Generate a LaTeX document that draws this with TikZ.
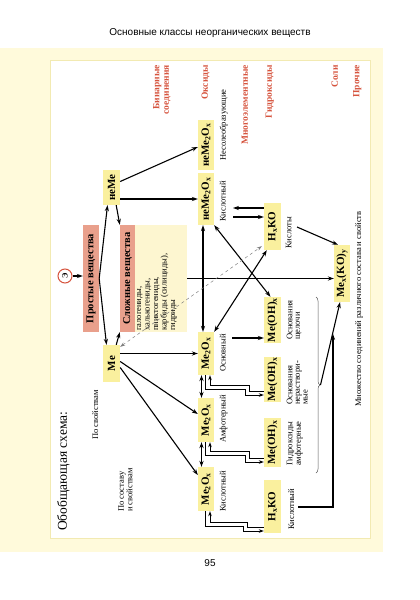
\documentclass[tikz,border=0pt]{standalone}
\usepackage{fontspec}
\setmainfont{Liberation Serif}
\newfontfamily\hdrfont{Liberation Sans}
\usepackage{graphicx}
\usetikzlibrary{arrows.meta,calc,decorations.pathreplacing}
\definecolor{panelbg}{RGB}{255,250,219}
\definecolor{panelline}{RGB}{242,234,178}
\definecolor{boxyel}{RGB}{250,240,158}
\definecolor{boxsal}{RGB}{233,160,140}
\definecolor{boxpale}{RGB}{253,246,208}
\definecolor{labred}{RGB}{214,84,62}
\begin{document}
\begin{tikzpicture}[x=1pt,y=-1pt,
  box/.style={fill=boxyel, inner sep=0pt, font=\bfseries\fontsize{11}{13}\selectfont},
  salbox/.style={fill=boxsal, inner sep=0pt, font=\bfseries\fontsize{10.5}{12}\selectfont},
  lab/.style={rotate=90, anchor=north west, inner sep=0pt, align=left, font=\fontsize{8.5}{7.6}\selectfont},
  redlab/.style={rotate=90, anchor=north east, inner sep=0pt, align=right, text=labred, font=\bfseries\fontsize{9.5}{9.5}\selectfont},
  arr/.style={line width=1.1pt, -{Stealth[length=6pt,width=4.2pt]}},
  darr/.style={line width=1.1pt, {Stealth[length=6pt,width=4.2pt]}-{Stealth[length=6pt,width=4.2pt]}},
  sarr/.style={line width=0.8pt, -{Stealth[length=5pt,width=3.6pt]}},
  dasharr/.style={line width=0.5pt, gray, dashed, {Stealth[length=5pt,width=3.4pt]}-{Stealth[length=5pt,width=3.4pt]}}
]
\useasboundingbox (0,0) rectangle (420,600);
\fill[white] (0,0) rectangle (420,600);
\fill[panelbg] (0,48) rectangle (383,552);
\filldraw[fill=white, draw=panelline, line width=0.8pt] (50,60) rectangle (370,538);

% header and page number
\node[font=\hdrfont\fontsize{10}{12}\selectfont] (hdr) at (210,33) {Основные классы неорганических веществ};
\node[font=\hdrfont\fontsize{10}{12}\selectfont] (pg) at (210,563) {95};

% red column labels
\node[redlab] (r1) at (153,65) {Бинарные\\соединения};
\node[redlab] (r2) at (201.5,65) {Оксиды};
\node[redlab] (r3) at (241.5,65) {Многоэлементные};
\node[redlab] (r4) at (265.5,65) {Гидроксиды};
\node[redlab] (r5) at (331.5,65) {Соли};
\node[redlab] (r6) at (353,65) {Прочие};

% left texts
\node[lab, font=\fontsize{13.5}{14}\selectfont] (title) at (57,531) {Обобщающая схема:};
\node[lab] (ps1) at (92,440) {По свойствам};
\node[lab] (ps2) at (118,512) {По составу\\и свойствам};

% substances
\node[circle, draw=labred, line width=1pt, fill=white, minimum size=14pt, inner sep=0pt, font=\bfseries\fontsize{8}{8}\selectfont] (el) at (65,276) {\rotatebox{90}{Э}};
\node[salbox, minimum width=16pt, minimum height=107pt] (prost) at (91,278.5) {\rotatebox{90}{Простые вещества}};
\node[salbox, minimum width=15pt, minimum height=107pt] (slozh) at (127.5,278.5) {\rotatebox{90}{Сложные вещества}};
\node[fill=boxpale, minimum width=52pt, minimum height=107pt, inner sep=0pt] (tbox) at (161,278.5) {};
\node[lab, font=\fontsize{8.5}{8.5}\selectfont] (tlist) at (137,331) {галогениды,\\халькогениды,\\пниктогениды,\\карбиды (силициды),\\гидриды};

\node[box, minimum width=17pt, minimum height=37pt] (me) at (111.5,363.5) {\rotatebox{90}{Me}};
\node[box, minimum width=17pt, minimum height=35pt] (neme) at (111.5,187.5) {\rotatebox{90}{неMe}};

% oxides
\node[box, minimum width=16pt, minimum height=50pt] (ox1) at (206,145) {\rotatebox{90}{неMe\textsubscript{2}O\textsubscript{x}}};
\node[box, minimum width=16pt, minimum height=52pt] (ox2) at (206,199) {\rotatebox{90}{неMe\textsubscript{2}O\textsubscript{x}}};
\node[box, minimum width=16pt, minimum height=43pt] (ox3) at (206,353.5) {\rotatebox{90}{Me\textsubscript{2}O\textsubscript{x}}};
\node[box, minimum width=16pt, minimum height=44pt] (ox4) at (206,420) {\rotatebox{90}{Me\textsubscript{2}O\textsubscript{x}}};
\node[box, minimum width=16pt, minimum height=44pt] (ox5) at (206,489) {\rotatebox{90}{Me\textsubscript{2}O\textsubscript{x}}};

\node[lab] (lo1) at (219.5,161) {Несолеобразующие};
\node[lab] (lo2) at (219.5,222) {Кислотный};
\node[lab] (lo3) at (219.5,372) {Основный};
\node[lab] (lo4) at (219.5,443) {Амфотерный};
\node[lab] (lo5) at (219.5,512) {Кислотный};

% hydroxides
\node[box, minimum width=17pt, minimum height=47pt] (acid1) at (272.5,226.5) {\rotatebox{90}{H\textsubscript{x}KO}};
\node[box, minimum width=17pt, minimum height=46pt] (hyd1) at (272.5,320) {\rotatebox{90}{Me(OH)\textsubscript{x}}};
\node[box, minimum width=17pt, minimum height=45pt] (hyd2) at (272.5,379.5) {\rotatebox{90}{Me(OH)\textsubscript{x}}};
\node[box, minimum width=17pt, minimum height=49pt] (hyd3) at (272.5,442.5) {\rotatebox{90}{Me(OH)\textsubscript{x}}};
\node[box, minimum width=17pt, minimum height=53pt] (acid2) at (272.5,506.5) {\rotatebox{90}{H\textsubscript{x}KO}};

\node[lab] (lh0) at (285.5,249) {Кислоты};
\node[lab] (lh1) at (286.5,340) {Основания\\щелочи};
\node[lab] (lh2) at (286.5,405) {Основания\\нераствори-\\мые};
\node[lab] (lh3) at (286.5,466) {Гидроксиды\\амфотерные};
\node[lab] (lh4) at (288,530) {Кислотный};

% salts
\node[box, minimum width=16pt, minimum height=57pt] (salt) at (342,273.5) {\rotatebox{90}{Me\textsubscript{x}(KO)\textsubscript{y}}};
\node[lab] (many) at (355,407) {Множество соединений различного состава и свойств};

% connectors
\draw[arr] (el.east) -- (el.east -| prost.west);
\draw[arr] (prost.east) -- ($(neme.south)+(-4,0)$);
\draw[arr] (prost.east) -- ($(me.north)+(-5,0)$);
\draw[arr] ($(me.north east)+(-4,0)$) -- (slozh.south west);
\draw[arr] ($(neme.south east)+(-4,0)$) -- (slozh.north west);
\draw[arr] ($(neme.east)+(0,-6)$) -- ($(ox1.west)+(0,2)$);
\draw[arr] ($(neme.east)+(0,11.5)$) -- (ox2.west);
\draw[arr] ($(me.east)+(0,-10)$) -- ($(ox3.west)+(0,0)$);
\draw[arr] ($(me.east)+(0,-2)$) -- ($(ox4.west)+(0,-6)$);
\draw[arr] ($(me.east)+(0,4)$) -- ($(ox5.west)+(0,-14)$);

\draw[darr] ($(ox2.south)+(-3,0)$) -- ($(ox3.north)+(-3,0)$);
\draw[darr] ($(ox3.south)+(-4.5,0)$) -- ($(ox4.north)+(-4.5,0)$);
\draw[darr] ($(ox4.south)+(-4.5,0)$) -- ($(ox5.north)+(-4.5,0)$);

\draw[arr] (tbox.east) -- (tbox.east -| salt.west);
\draw[darr] (ox2.south east) -- ($(hyd1.north)+(-2,0)$);
\draw[darr] (ox3.north east) -- ($(acid1.south west)+(3,0)$);
\draw[dasharr] ($(me.north east)+(0,2)$) -- ($(acid1.south west)+(-2,-4)$);

\coordinate (ka) at (233,208);
\coordinate (kb) at (233,217);
\draw[arr] (ka -| acid1.west) -- (ka);
\draw[arr] (kb) -- (kb -| acid1.west);
\coordinate (ob) at (232,338);
\draw[arr] (ob) -- (ob -| hyd1.west);

% stepped pairs
\draw[sarr] ($(ox3.south)+(-0.5,0)$) -- (205.5,389) -- (245,389) -- (245,395) -- ($(hyd2.west)+(0,15.5)$);
\draw[sarr] ($(hyd2.west)+(0,11.5)$) -- (249,391) -- (249,385) -- (210,385) -- ($(ox3.south)+(4,0)$);
\draw[sarr] ($(ox4.south)+(-0.5,0)$) -- (205.5,455) -- (245,455) -- (245,462) -- ($(hyd3.west)+(0,19.5)$);
\draw[sarr] ($(hyd3.west)+(0,15.5)$) -- (249,458) -- (249,451) -- (210,451) -- ($(ox4.south)+(4,0)$);
\draw[sarr] ($(ox5.south)+(-0.5,0)$) -- (205.5,526) -- (243,526) -- (243,531) -- ($(acid2.west)+(0,24.5)$);
\draw[sarr] ($(acid2.west)+(0,20.5)$) -- (247,527) -- (247,522) -- (210,522) -- ($(ox5.south)+(4,0)$);

% to salts
\coordinate (ks) at (297,227);
\draw[arr] (ks) -- ($(salt.north)+(-4,0)$);
\draw[line width=0.5pt, gray!70!black, decorate, decoration={brace, amplitude=4pt}] (316,297) -- (316,473);
\coordinate (btip) at (320.5,385);
\draw[arr] (btip) -- ($(salt.south)+(-2,0)$);
\coordinate (kl) at (298,507);
\coordinate (kv) at (333,334);
\draw[arr] (kl) -| (kv);
\end{tikzpicture}
\end{document}
